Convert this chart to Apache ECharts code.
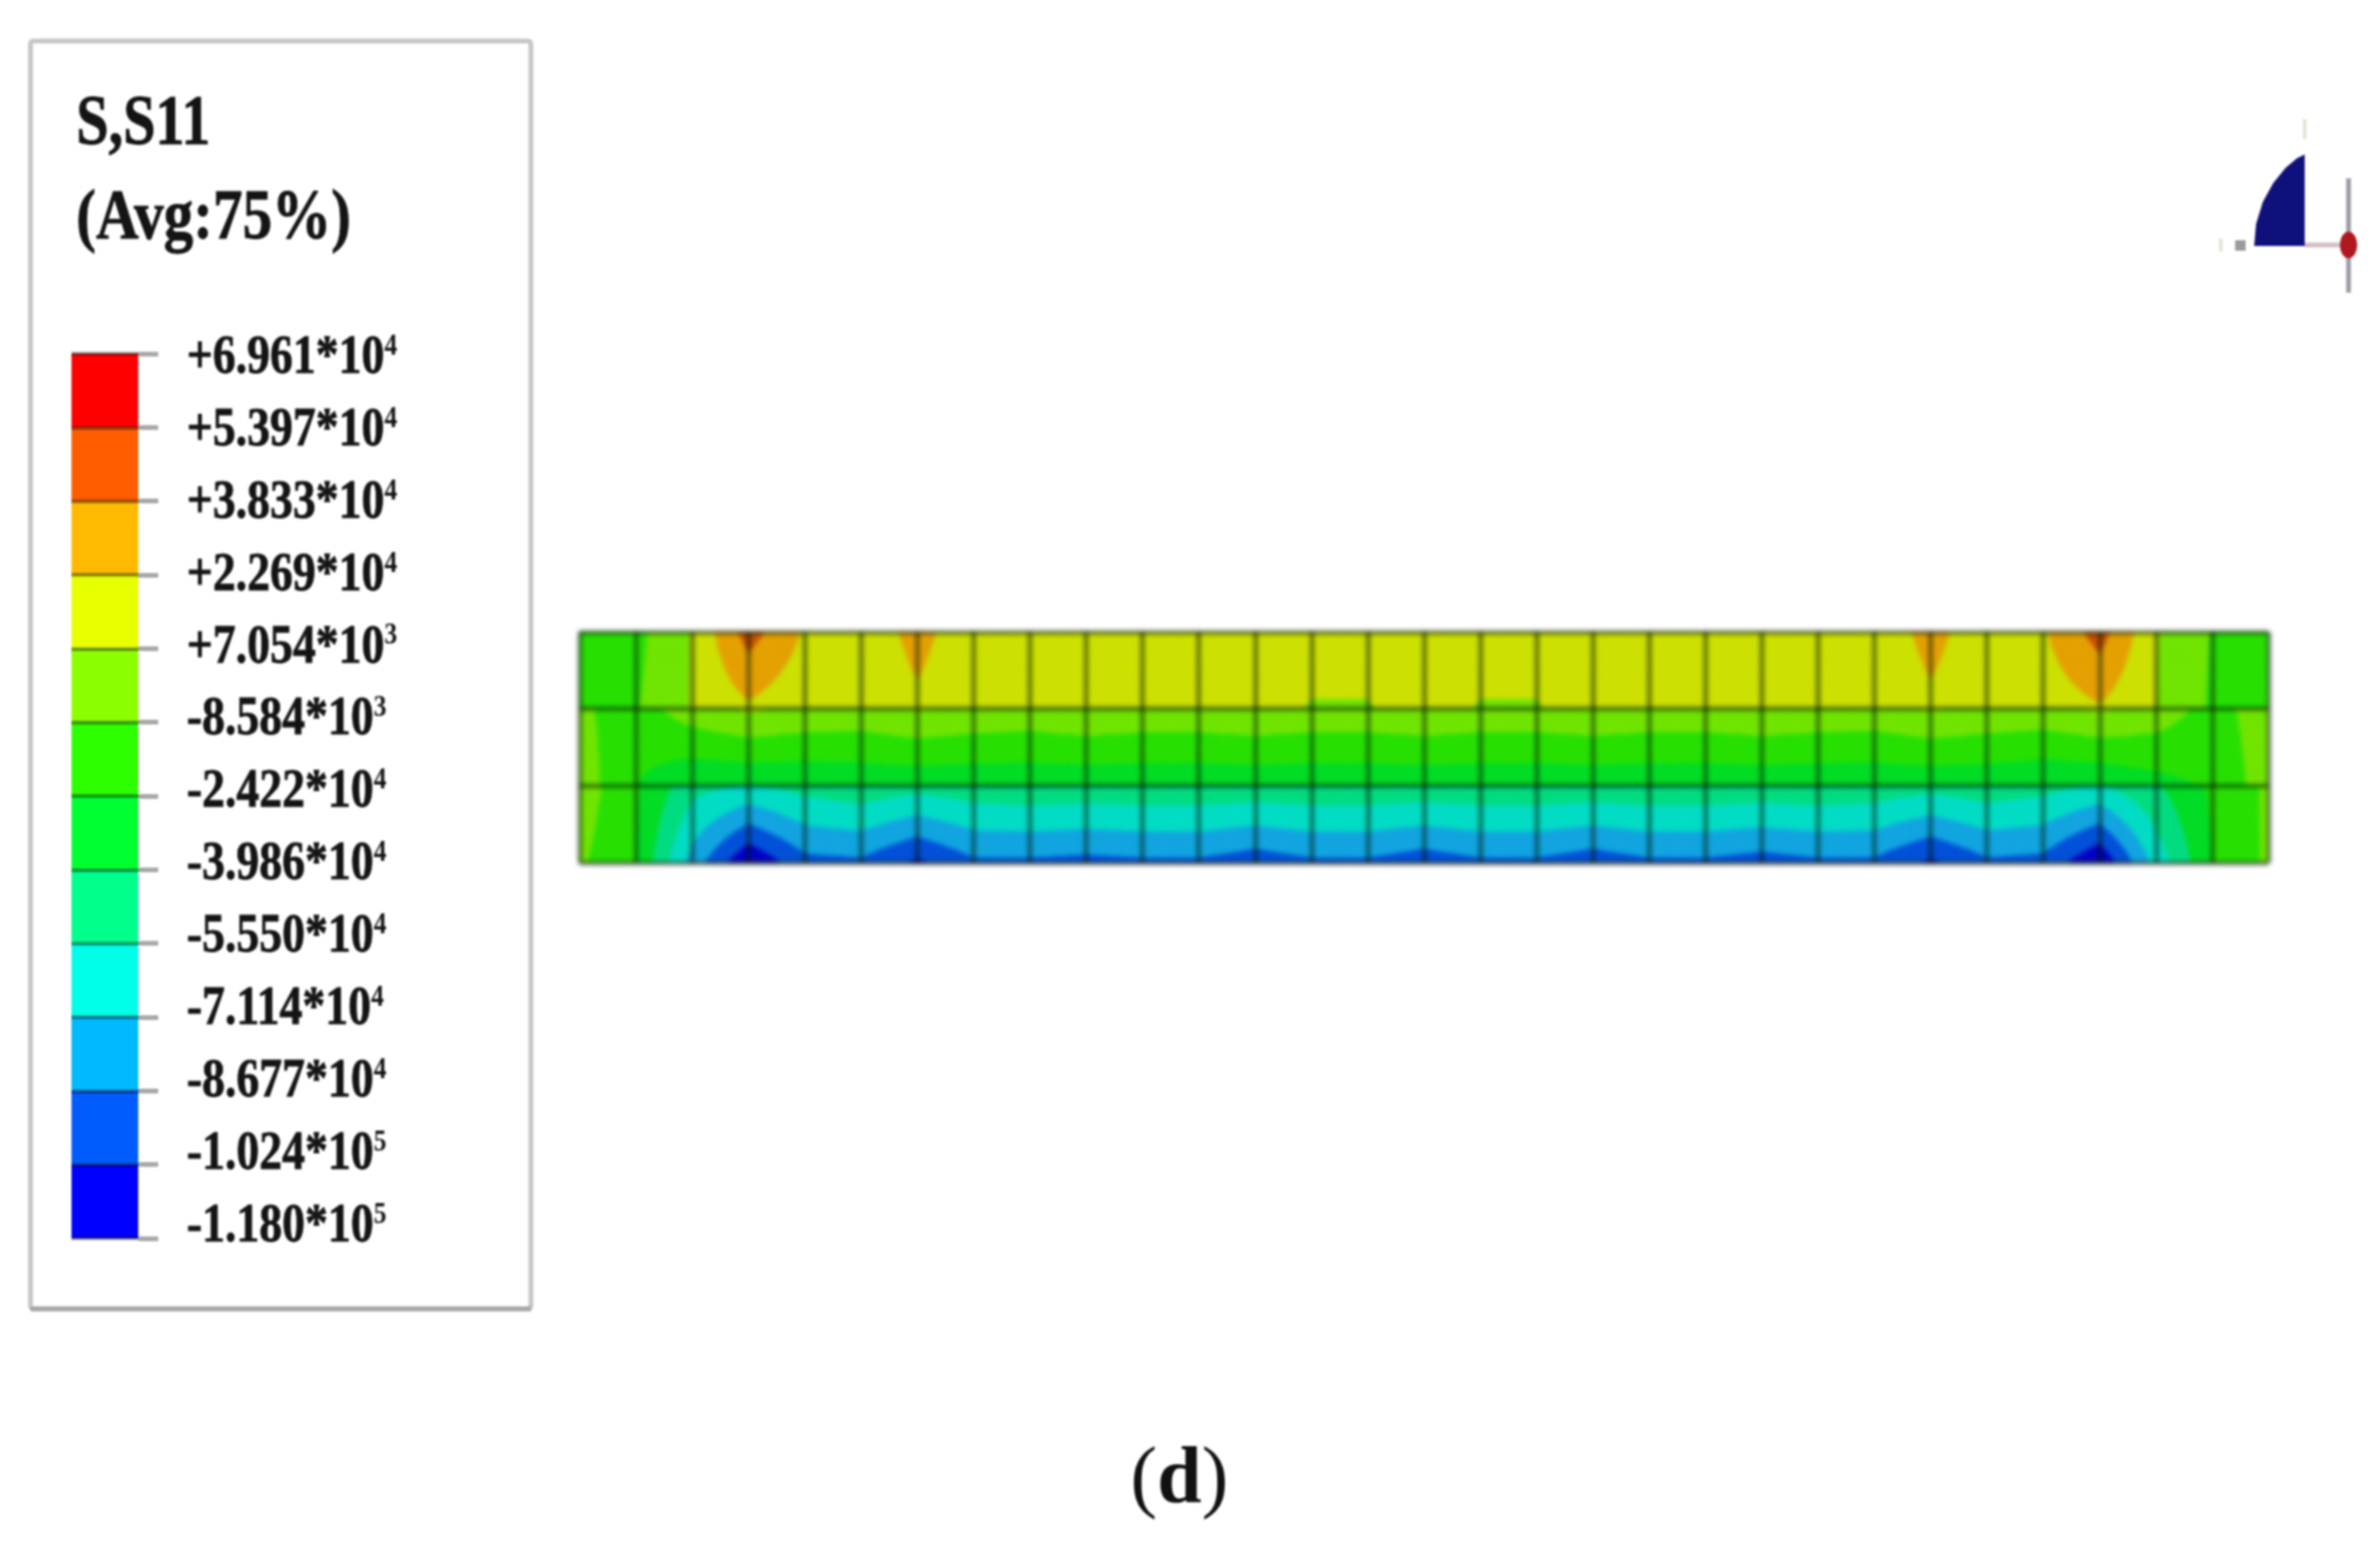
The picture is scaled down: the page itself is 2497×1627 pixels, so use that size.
<!DOCTYPE html>
<html>
<head>
<meta charset="utf-8">
<style>
html,body{margin:0;padding:0;background:#fff;}
#legend,#mesh{position:absolute;left:0;top:0;width:2497px;height:1627px;}
#legend{filter:blur(1.2px);}
#mesh{filter:blur(2.4px);}
</style>
<script src="https://cdn.jsdelivr.net/npm/echarts@6/dist/echarts.min.js"></script>
</head>
<body>
<div id="legend"></div>
<div id="mesh"></div>
<script>
// Contour levels (S11) from bottom to top of the legend
const levels = [-118000,-102400,-86770,-71140,-55500,-39860,-24220,-8584,7054,22690,38330,53970,69610];
// Legend band colours, bottom to top
const bandColors = ['#0000ff','#005cff','#00b9ff','#00ffe8','#00ff8b','#00ff2e','#2eff00','#8bff00','#e8ff00','#ffb900','#ff5c00','#ff0000'];
// Same bands as they appear (dimmer) on the model
const meshColors = ['#0000c4','#0050d8','#10a4e0','#00dcc4','#00dc80','#00dc24','#26e000','#70e400','#cce000','#e4a000','#c85000','#c00000'];
// Tick labels, top to bottom
const tickMantissa = ['+6.961*10','+5.397*10','+3.833*10','+2.269*10','+7.054*10','-8.584*10','-2.422*10','-3.986*10','-5.550*10','-7.114*10','-8.677*10','-1.024*10','-1.180*10'];
const tickExponent = ['4','4','4','4','3','3','4','4','4','4','4','5','5'];

// Nodal stress read along each mesh row: upper and lower edge of the three element rows, 31 nodes
const row1Top = [-16000,-13000,8000,45000,21000,14000,27000,14000,14000,14000,14000,14000,14000,14000,14000,14000,14000,14000,14000,14000,14000,14000,14000,14000,27000,14000,21000,45000,8000,-9500,-16000];
const row1Bot = [-16000,-10000,8000,20000,11000,13000,20000,13000,13000,13000,13000,13000,13000,6000,6000,13000,6000,6000,13000,13000,13000,13000,13000,13000,20000,13000,13000,21000,7500,-11000,-16000];
const row2Top = [-6000,-16000,0,9000,4000,2000,8000,4000,2000,6000,3000,3000,6000,3000,3000,6000,3000,3000,6000,3000,3000,6000,3000,2000,8000,4000,2000,9000,1000,-15000,0];
const row2Bot = [0,-24000,-38000,-39000,-38000,-36000,-36000,-36000,-36000,-36000,-36000,-36000,-36000,-36000,-36000,-36000,-36000,-36000,-36000,-36000,-36000,-36000,-36000,-36000,-36000,-36000,-38000,-39000,-30000,-22000,0];
const row3Top = [0,-22000,-50000,-57000,-50000,-45000,-50000,-46000,-44000,-45000,-44000,-44000,-45000,-44000,-44000,-45000,-44000,-44000,-45000,-44000,-44000,-45000,-44000,-46000,-50000,-46000,-50000,-57000,-42000,-22000,-6000];
const row3Bot = [-6000,-24000,-78000,-118000,-92000,-90000,-106000,-90000,-90000,-92000,-90000,-90000,-96000,-90000,-90000,-96000,-90000,-90000,-96000,-90000,-90000,-94000,-90000,-90000,-106000,-90000,-92000,-118000,-66000,-24000,-6000];

const rows = [[row1Top,row1Bot],[row2Top,row2Bot],[row3Top,row3Bot]];
const elements = [];
for (let r = 0; r < rows.length; r++) for (let i = 0; i < row1Top.length - 1; i++) elements.push([i, r]);
const bands = bandColors.map((_, i) => [i]);
const labelTicks = tickMantissa.map((_, i) => [12 - i]);
const SUB = 6;

function clip(poly, level, keepAbove) {
  const out = [];
  for (let k = 0; k < poly.length; k++) {
    const a = poly[k], b = poly[(k + 1) % poly.length];
    const ia = keepAbove ? a[2] >= level : a[2] <= level;
    const ib = keepAbove ? b[2] >= level : b[2] <= level;
    if (ia) out.push(a);
    if (ia !== ib) {
      const t = (level - a[2]) / (b[2] - a[2]);
      out.push([a[0] + t * (b[0] - a[0]), a[1] + t * (b[1] - a[1]), level]);
    }
  }
  return out;
}
function renderElement(params, api) {
  const i = api.value(0), r = api.value(1);
  const top = rows[r][0], bot = rows[r][1];
  const val = (u, v) => (1 - v) * ((1 - u) * top[i] + u * top[i + 1]) + v * ((1 - u) * bot[i] + u * bot[i + 1]);
  const node = (a, b) => { const u = a / SUB, v = b / SUB; return [i + u, 3 - r - v, val(u, v)]; };
  const children = [];
  const pushTri = (tri) => {
    const lo = Math.min(tri[0][2], tri[1][2], tri[2][2]), hi = Math.max(tri[0][2], tri[1][2], tri[2][2]);
    for (let b = 0; b < meshColors.length; b++) {
      const bandLo = b === 0 ? -Infinity : levels[b];
      const bandHi = b === meshColors.length - 1 ? Infinity : levels[b + 1];
      if (hi < bandLo || lo > bandHi) continue;
      let p = tri;
      if (bandLo !== -Infinity) p = clip(p, bandLo, true);
      if (p.length && bandHi !== Infinity) p = clip(p, bandHi, false);
      if (p.length < 3) continue;
      children.push({ type: 'polygon', silent: true,
        shape: { points: p.map(q => api.coord([q[0], q[1]])) },
        style: { fill: meshColors[b], stroke: meshColors[b], lineWidth: 0.8 } });
    }
  };
  for (let a = 0; a < SUB; a++) for (let b = 0; b < SUB; b++) {
    const p00 = node(a, b), p10 = node(a + 1, b), p01 = node(a, b + 1), p11 = node(a + 1, b + 1);
    pushTri([p00, p10, p11]); pushTri([p00, p11, p01]);
  }
  return { type: 'group', children };
}
function renderBand(params, api) {
  const b = api.value(0);
  const p0 = api.coord([0, b]), p1 = api.coord([1, b + 1]);
  return { type: 'rect', shape: { x: p0[0], y: p1[1], width: p1[0] - p0[0], height: p0[1] - p1[1] }, style: { fill: bandColors[b] } };
}
const serifBold = { fontFamily: 'Liberation Serif', fontWeight: 'bold', fill: '#141414' };
function renderLabel(params, api) {
  const v = api.value(0);
  const p = api.coord([0, v]);
  const idx = 12 - v;
  return { type: 'text', silent: true, x: p[0], y: p[1], scaleY: 1.2,
    style: { text: '{a|' + tickMantissa[idx] + '}{b|' + tickExponent[idx] + '}', align: 'left', verticalAlign: 'middle',
      rich: {
        a: { fontFamily: 'Liberation Serif', fontWeight: 'bold', fontSize: 48, fill: '#141414', lineHeight: 48, stroke: '#141414', lineWidth: 0.7 },
        b: { fontFamily: 'Liberation Serif', fontWeight: 'bold', fontSize: 27, fill: '#141414', lineHeight: 26, verticalAlign: 'top' }
      } } };
}
const gridLine = { show: true, lineStyle: { color: 'rgba(0,20,0,0.5)', width: 5 } };
const noAxis = { axisLine: { show: false, onZero: false }, axisTick: { show: false }, axisLabel: { show: false }, splitLine: { show: false } };

const legendChart = echarts.init(document.getElementById('legend'), null, { renderer: 'canvas' });
legendChart.setOption({
  animation: false,
  backgroundColor: '#ffffff',
  grid: [
    { left: 75, top: 371, width: 70, height: 928 },
    { left: 196, top: 376, width: 2, height: 911 }
  ],
  xAxis: [
    Object.assign({}, noAxis, { gridIndex: 0, type: 'value', min: 0, max: 1 }),
    Object.assign({}, noAxis, { gridIndex: 1, type: 'value', min: 0, max: 1 })
  ],
  yAxis: [
    Object.assign({}, noAxis, { gridIndex: 0, type: 'value', min: 0, max: 12, interval: 1, position: 'right', z: 5,
      axisTick: { show: true, length: 21, lineStyle: { color: '#a8a8a8', width: 5 } },
      splitLine: { show: true, lineStyle: { color: 'rgba(0,0,0,0.38)', width: 4 } } }),
    Object.assign({}, noAxis, { gridIndex: 1, type: 'value', min: 0, max: 12, interval: 1 })
  ],
  series: [
    { type: 'custom', xAxisIndex: 0, yAxisIndex: 0, coordinateSystem: 'cartesian2d', renderItem: renderBand, encode: { y: 0 }, data: bands, silent: true, z: 2 },
    { type: 'custom', xAxisIndex: 1, yAxisIndex: 1, coordinateSystem: 'cartesian2d', renderItem: renderLabel, encode: { y: 0 }, data: labelTicks, silent: true, clip: false, z: 6 }
  ],
  graphic: [
    { type: 'rect', z: 0, shape: { x: 32, y: 43, width: 525, height: 1330, r: 3 }, style: { fill: '#fff', stroke: '#c6c6c6', lineWidth: 5 } },
    { type: 'line', z: 0, shape: { x1: 32, y1: 1373, x2: 557, y2: 1373 }, style: { stroke: '#a8a8a8', lineWidth: 5 } },
    { type: 'text', z: 6, x: 80, y: 132, scaleY: 1.2, style: Object.assign({ text: 'S,S11', fontSize: 61, align: 'left', verticalAlign: 'middle', stroke: '#141414', lineWidth: 0.8 }, serifBold) },
    { type: 'text', z: 6, x: 80, y: 231, scaleY: 1.2, style: Object.assign({ text: '(Avg:75%)', fontSize: 62, align: 'left', verticalAlign: 'middle', stroke: '#141414', lineWidth: 0.8 }, serifBold) },
    { type: 'text', z: 6, x: 1186, y: 1554, style: { text: '{p|(}{d|d}{p|)}', align: 'left', verticalAlign: 'middle', rich: {
        p: { fontFamily: 'Liberation Serif', fontWeight: 'normal', fontSize: 84, fill: '#111' },
        d: { fontFamily: 'Liberation Serif', fontWeight: 'bold', fontSize: 84, fill: '#111' } } } },
    // orientation triad
    { type: 'polygon', z: 3, shape: { points: [[2365,258],[2367,235],[2374,212],[2385,192],[2398,176],[2410,166],[2418,162],[2418,258]] }, style: { fill: '#10107c' } },
    { type: 'rect', z: 3, shape: { x: 2345, y: 252, width: 11, height: 11 }, style: { fill: '#9a9a9a' } },
    { type: 'line', z: 3, shape: { x1: 2418, y1: 257, x2: 2458, y2: 257 }, style: { stroke: '#d4c0c4', lineWidth: 5 } },
    { type: 'line', z: 3, shape: { x1: 2464, y1: 187, x2: 2464, y2: 307 }, style: { stroke: '#9c9ca6', lineWidth: 5 } },
    { type: 'ellipse', z: 4, shape: { cx: 2464, cy: 257, rx: 9, ry: 14 }, style: { fill: '#b01820' } },
    { type: 'line', z: 3, shape: { x1: 2418, y1: 125, x2: 2418, y2: 146 }, style: { stroke: '#e6e6d6', lineWidth: 4 } },
    { type: 'line', z: 3, shape: { x1: 2330, y1: 250, x2: 2330, y2: 264 }, style: { stroke: '#e6e6d6', lineWidth: 4 } }
  ]
});

const meshChart = echarts.init(document.getElementById('mesh'), null, { renderer: 'canvas' });
meshChart.setOption({
  animation: false,
  backgroundColor: 'transparent',
  grid: { left: 608, top: 663, width: 1772, height: 242 },
  xAxis: Object.assign({}, noAxis, { type: 'value', min: 0, max: 30, interval: 1, z: 5, splitLine: gridLine }),
  yAxis: Object.assign({}, noAxis, { type: 'value', min: 0, max: 3, interval: 1, z: 5, splitLine: gridLine }),
  series: [
    { type: 'custom', coordinateSystem: 'cartesian2d', renderItem: renderElement, data: elements, silent: true, clip: true, z: 2 }
  ]
});
</script>
</body>
</html>
